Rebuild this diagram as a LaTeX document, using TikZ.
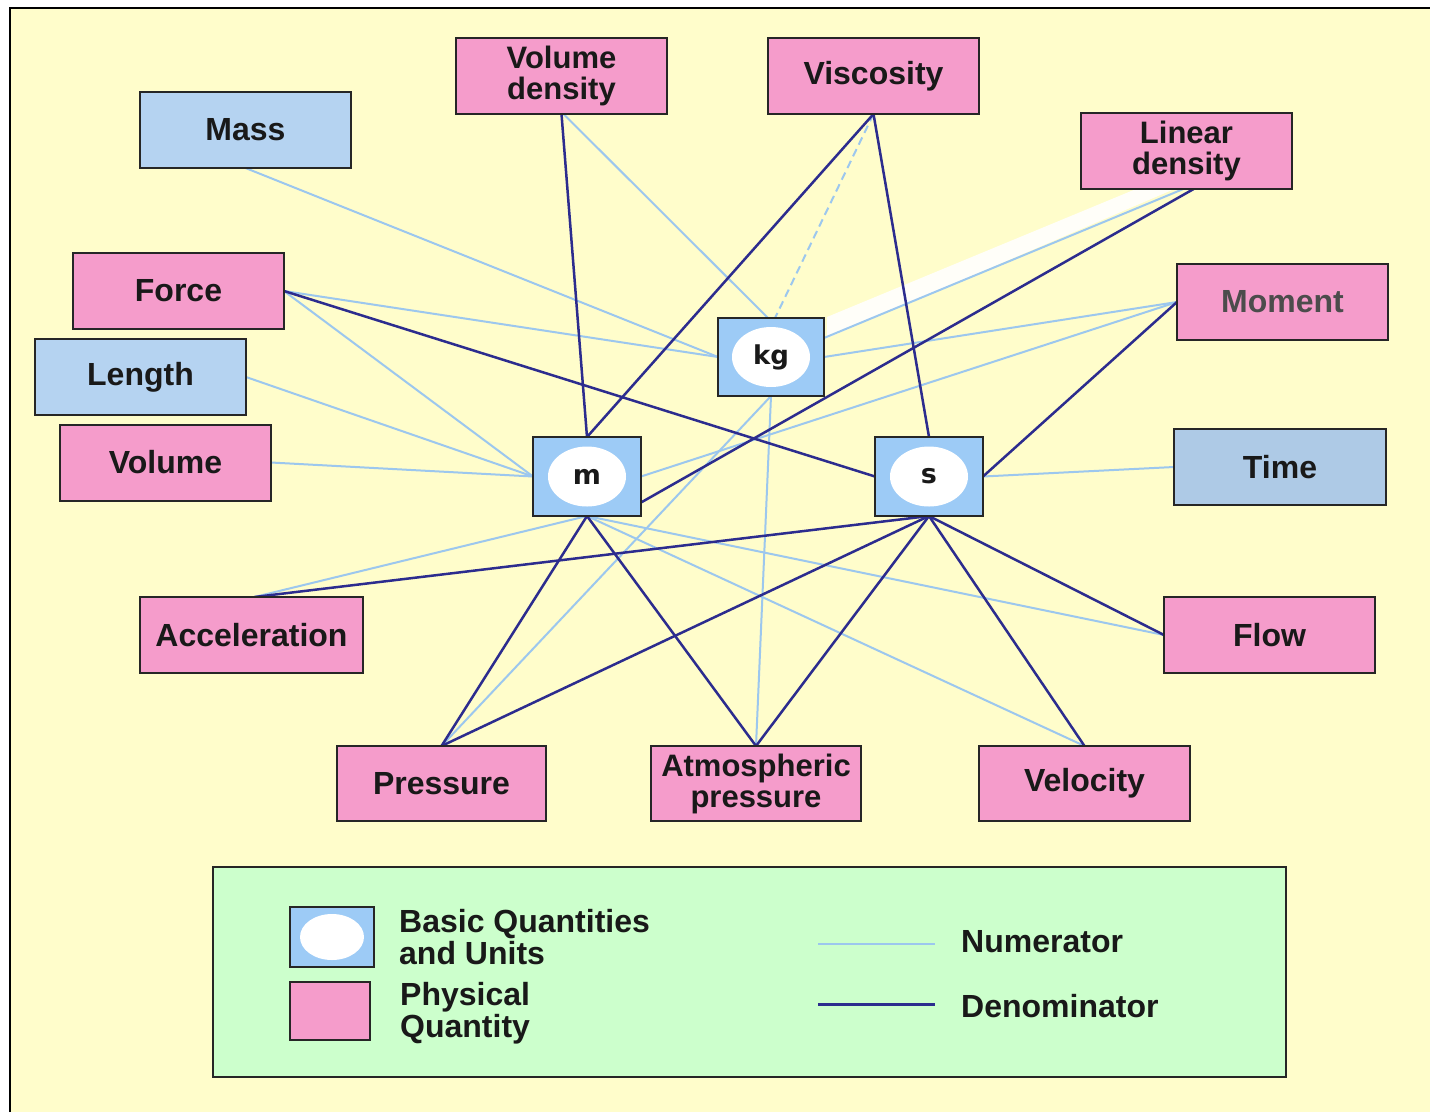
\documentclass[tikz,border=0pt]{standalone}
\usepackage{fontspec}
\setmainfont{Liberation Sans}
\newfontfamily\unitfont{DejaVu Sans}
\usetikzlibrary{calc}
\definecolor{bgyellow}{HTML}{FFFDCB}
\definecolor{pinkq}{HTML}{F59CCB}
\definecolor{blueq}{HTML}{B5D3F1}
\definecolor{timeblue}{HTML}{AECAE6}
\definecolor{unitblue}{HTML}{9DCBF6}
\definecolor{legendgreen}{HTML}{CCFFCC}
\definecolor{numc}{HTML}{9CC7EE}
\definecolor{denc}{HTML}{2C2C8E}
\pgfdeclarelayer{back}
\pgfdeclarelayer{lines}
\pgfsetlayers{back,lines,main}
\tikzset{
  qbox/.style={draw=black!85, line width=2pt, inner sep=0pt, outer sep=0pt,
    minimum width=211pt, minimum height=76pt, align=center,
    font=\fontsize{32}{28}\selectfont\bfseries, text=black!90},
  twoline/.style={font=\fontsize{31}{31}\selectfont\bfseries},
  pq/.style={qbox, fill=pinkq},
  bq/.style={qbox, fill=blueq},
  ubox/.style={draw=black!85, line width=2.5pt, fill=unitblue, inner sep=0pt, outer sep=0pt,
    minimum width=106pt, minimum height=78pt,
    font=\unitfont\fontsize{26}{26}\selectfont\bfseries, text=black!90,
    path picture={\fill[white] (path picture bounding box.center) ellipse [x radius=39pt, y radius=30pt];}},
  num/.style={draw=numc, line width=2pt},
  den/.style={draw=denc, line width=2.5pt},
  legtext/.style={anchor=west, align=left, inner sep=0pt,
    font=\fontsize{32}{32}\selectfont\bfseries, text=black!90},
}
\begin{document}
\begin{tikzpicture}[x=1pt,y=-1pt]
\useasboundingbox (0,0) rectangle (1430,1112);
\begin{pgfonlayer}{back}
  \fill[white] (0,0) rectangle (1430,1112);
  \fill[bgyellow] (10,8) rectangle (1430,1112);
  \draw[black, line width=2.5pt] (10,1112) -- (10,8) -- (1430,8);
\end{pgfonlayer}

% physical / basic quantity nodes
\node[bq] (mass) at (245.5,130) {Mass};
\node[pq, twoline] (vd) at (561.5,76) {Volume\\density};
\node[pq] (visc) at (873.5,76) {Viscosity};
\node[pq, twoline] (ld) at (1186.5,150.5) {Linear\\density};
\node[pq] (force) at (178.5,291) {Force};
\node[pq, text=black!70] (moment) at (1282.5,302) {Moment};
\node[bq] (length) at (140.5,377) {Length};
\node[pq] (volume) at (165.5,462.5) {Volume};
\node[bq, fill=timeblue, minimum width=212pt] (time) at (1280,467) {Time};
\node[pq, minimum width=223pt] (acc) at (251.5,635) {Acceleration};
\node[pq] (flow) at (1269.5,635) {Flow};
\node[pq, minimum width=209pt, minimum height=75pt] (press) at (441.5,783.5) {Pressure};
\node[pq, twoline, minimum width=210pt, minimum height=75pt] (atm) at (756,783.5) {Atmospheric\\pressure};
\node[pq, minimum height=75pt] (vel) at (1084.5,783.5) {Velocity};

% unit nodes
\node[ubox] (kg) at (771,357) {kg};
\node[ubox, minimum width=108pt, minimum height=79pt, font=\unitfont\fontsize{27}{27}\selectfont\bfseries] (m) at (587,476.5) {m};
\node[ubox, minimum width=108pt, minimum height=79pt, font=\unitfont\fontsize{27}{27}\selectfont\bfseries] (s) at (929,476.5) {s};

\begin{pgfonlayer}{lines}
  % white highlight band
  \fill[white, opacity=0.9] ([xshift=-42pt,yshift=3pt]ld.south) -- ([xshift=-4pt,yshift=3pt]ld.south)
     -- ([xshift=3pt,yshift=19pt]kg.east) -- ([xshift=3pt,yshift=40pt]kg.east) -- cycle;
  % numerator lines
  \draw[num] (mass.south) -- (kg.west);
  \draw[num] ([xshift=2pt]vd.south) -- ([xshift=-3pt]kg.north);
  \draw[num, dash pattern=on 8pt off 5pt] (visc.south) -- ([xshift=4pt]kg.north);
  \draw[num] ([xshift=-2pt]ld.south) -- ([yshift=19pt]kg.east);
  \draw[num] (force.east) -- (kg.west);
  \draw[num] (force.east) -- (m.west);
  \draw[num] (length.east) -- (m.west);
  \draw[num] (volume.east) -- (m.west);
  \draw[num] (moment.west) -- (kg.east);
  \draw[num] (moment.west) -- (m.east);
  \draw[num] (time.west) -- (s.east);
  \draw[num] (kg.south) -- (atm.north);
  \draw[num] (kg.south) -- (press.north);
  \draw[num] (m.south) -- ([xshift=3pt]acc.north);
  \draw[num] (m.south) -- (flow.west);
  \draw[num] (m.south) -- (vel.north);
  % denominator lines
  \draw[den] (vd.south) -- (m.north);
  \draw[den] (visc.south) -- (m.north);
  \draw[den] (visc.south) -- (s.north);
  \draw[den] ([xshift=8pt]ld.south) -- ([yshift=-26pt]m.east);
  \draw[den] (force.east) -- (s.west);
  \draw[den] (moment.west) -- (s.east);
  \draw[den] (m.south) -- (press.north);
  \draw[den] (m.south) -- (atm.north);
  \draw[den] (s.south) -- (press.north);
  \draw[den] (s.south) -- (atm.north);
  \draw[den] (s.south) -- (vel.north);
  \draw[den] (s.south) -- (flow.west);
  \draw[den] (s.south) -- ([xshift=3pt]acc.north);
\end{pgfonlayer}

% legend
\node[draw=black!85, line width=2.5pt, fill=legendgreen, inner sep=0pt, outer sep=0pt,
      minimum width=1073pt, minimum height=210pt] (legend) at (749.5,972) {};
\node[ubox, minimum width=84pt, minimum height=60pt,
      path picture={\fill[white] (path picture bounding box.center) ellipse [x radius=32pt, y radius=23pt];}] (legunit) at (332,937) {};
\node[draw=black!85, line width=2.5pt, fill=pinkq, inner sep=0pt, outer sep=0pt,
      minimum width=80pt, minimum height=58pt] (legphys) at (330,1011) {};
\node[legtext] (legunittext) at (399,937) {Basic Quantities\\and Units};
\node[legtext] (legphystext) at (400,1013) {Physical\\Quantity};
\coordinate (numa) at (818,944);
\coordinate (numb) at (935,944);
\coordinate (dena) at (818,1004);
\coordinate (denb) at (935,1004);
\draw[num, line width=2.5pt] (numa) -- (numb);
\draw[den, line width=3pt] (dena) -- (denb);
\node[legtext] (numtext) at (961,942) {Numerator};
\node[legtext] (dentext) at (961,1006) {Denominator};
\end{tikzpicture}
\end{document}
